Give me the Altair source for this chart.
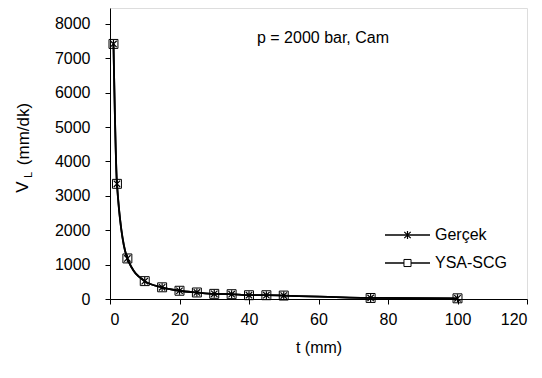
import altair as alt
import pandas as pd

t_mm = [1, 2, 5, 10, 15, 20, 25, 30, 35, 40, 45, 50, 75, 100]
gercek = [7420, 3350, 1180, 520, 340, 240, 190, 150, 140, 110, 110, 100, 30, 20]
ysa_scg = [7420, 3350, 1180, 520, 340, 240, 190, 150, 140, 110, 110, 100, 30, 20]
series_names = ["Gerçek", "YSA-SCG"]
x_ticks = [0, 20, 40, 60, 80, 100, 120]
y_ticks = [0, 1000, 2000, 3000, 4000, 5000, 6000, 7000, 8000]

FONT = "Liberation Sans"
FS = 16
W, H = 417, 291
ASTERISK = "M0,-1L0,1M-0.8,-0.8L0.8,0.8M-0.8,0.8L0.8,-0.8"

df = pd.DataFrame(
    {"t": t_mm * 2,
     "v": gercek + ysa_scg,
     "seri": [series_names[0]] * len(t_mm) + [series_names[1]] * len(t_mm)}
)

x = alt.X("t:Q", scale=alt.Scale(domain=[0, 120], nice=False, zero=True),
          axis=alt.Axis(values=x_ticks, title="t (mm)", grid=False, tickSize=5,
                        labelPadding=7, titlePadding=12, domainColor="black",
                        tickColor="black", labelColor="black", titleColor="black",
                        labelFont=FONT, titleFont=FONT, labelFontSize=FS,
                        titleFontSize=FS, titleFontWeight="normal", format="d"))
y = alt.Y("v:Q", scale=alt.Scale(domain=[0, 8465], nice=False),
          axis=alt.Axis(values=y_ticks, title=None, grid=False, tickSize=5,
                        labelPadding=15, domainColor="black", tickColor="black",
                        labelColor="black", labelFont=FONT, labelFontSize=FS,
                        format="d"))

base = alt.Chart(df)
lines = base.mark_line(interpolate="monotone", color="black", strokeWidth=1.8).encode(
    x=x, y=y, detail="seri:N")
squares = base.transform_filter(alt.datum.seri == series_names[1]).mark_point(
    shape="square", size=80, filled=False, color="black", strokeWidth=1, opacity=1
).encode(x=x, y=y)
stars = base.transform_filter(alt.datum.seri == series_names[0]).mark_point(
    shape=ASTERISK, size=64, filled=False, color="black", strokeWidth=1.2, opacity=1
).encode(x=x, y=y)

# legend (drawn by hand, Excel style: line + marker + label)
LEG_Y = [227, 255]
legend_layers = []
for i, name in enumerate(series_names):
    d = pd.DataFrame({"name": [name]})
    c = alt.Chart(d)
    legend_layers.append(c.mark_rule(color="black", strokeWidth=1.5).encode(
        x=alt.value(275), x2=alt.value(320), y=alt.value(LEG_Y[i])))
    if i == 0:
        legend_layers.append(c.mark_point(
            shape=ASTERISK, size=64, filled=False, color="black", strokeWidth=1.2, opacity=1
        ).encode(x=alt.value(297.5), y=alt.value(LEG_Y[i])))
    else:
        legend_layers.append(c.mark_point(
            shape="square", size=50, filled=True, fill="white", stroke="black",
            strokeWidth=1, opacity=1
        ).encode(x=alt.value(297.5), y=alt.value(LEG_Y[i])))
    legend_layers.append(c.mark_text(
        align="left", baseline="middle", font=FONT, fontSize=FS, color="black"
    ).encode(x=alt.value(325), y=alt.value(LEG_Y[i]), text="name:N"))

note = alt.Chart(pd.DataFrame({"s": ["p = 2000 bar, Cam"]})).mark_text(
    font=FONT, fontSize=FS, color="black", align="center", baseline="middle"
).encode(x=alt.value(213), y=alt.value(30), text="s:N")

ytitle_v = alt.Chart(pd.DataFrame({"s": ["V"]})).mark_text(
    font=FONT, fontSize=17, color="black", align="center", baseline="middle", angle=270
).encode(x=alt.value(-87), y=alt.value(179), text="s:N")
ytitle_l = alt.Chart(pd.DataFrame({"s": ["L"]})).mark_text(
    font=FONT, fontSize=11, color="black", align="center", baseline="middle", angle=270
).encode(x=alt.value(-81), y=alt.value(167), text="s:N")
ytitle_rest = alt.Chart(pd.DataFrame({"s": ["(mm/dk)"]})).mark_text(
    font=FONT, fontSize=17, color="black", align="center", baseline="middle", angle=270
).encode(x=alt.value(-86), y=alt.value(126), text="s:N")

chart = alt.layer(
    lines, squares, stars, *legend_layers, note, ytitle_v, ytitle_l, ytitle_rest
).properties(
    width=W, height=H,
    autosize=alt.AutoSizeParams(type="none"),
    padding={"left": 102, "top": 0, "right": 7, "bottom": 71},
).configure_view(stroke="black", strokeWidth=1).configure(background="white")

chart.save("out.html", embed_options={"renderer": "svg", "actions": False})
